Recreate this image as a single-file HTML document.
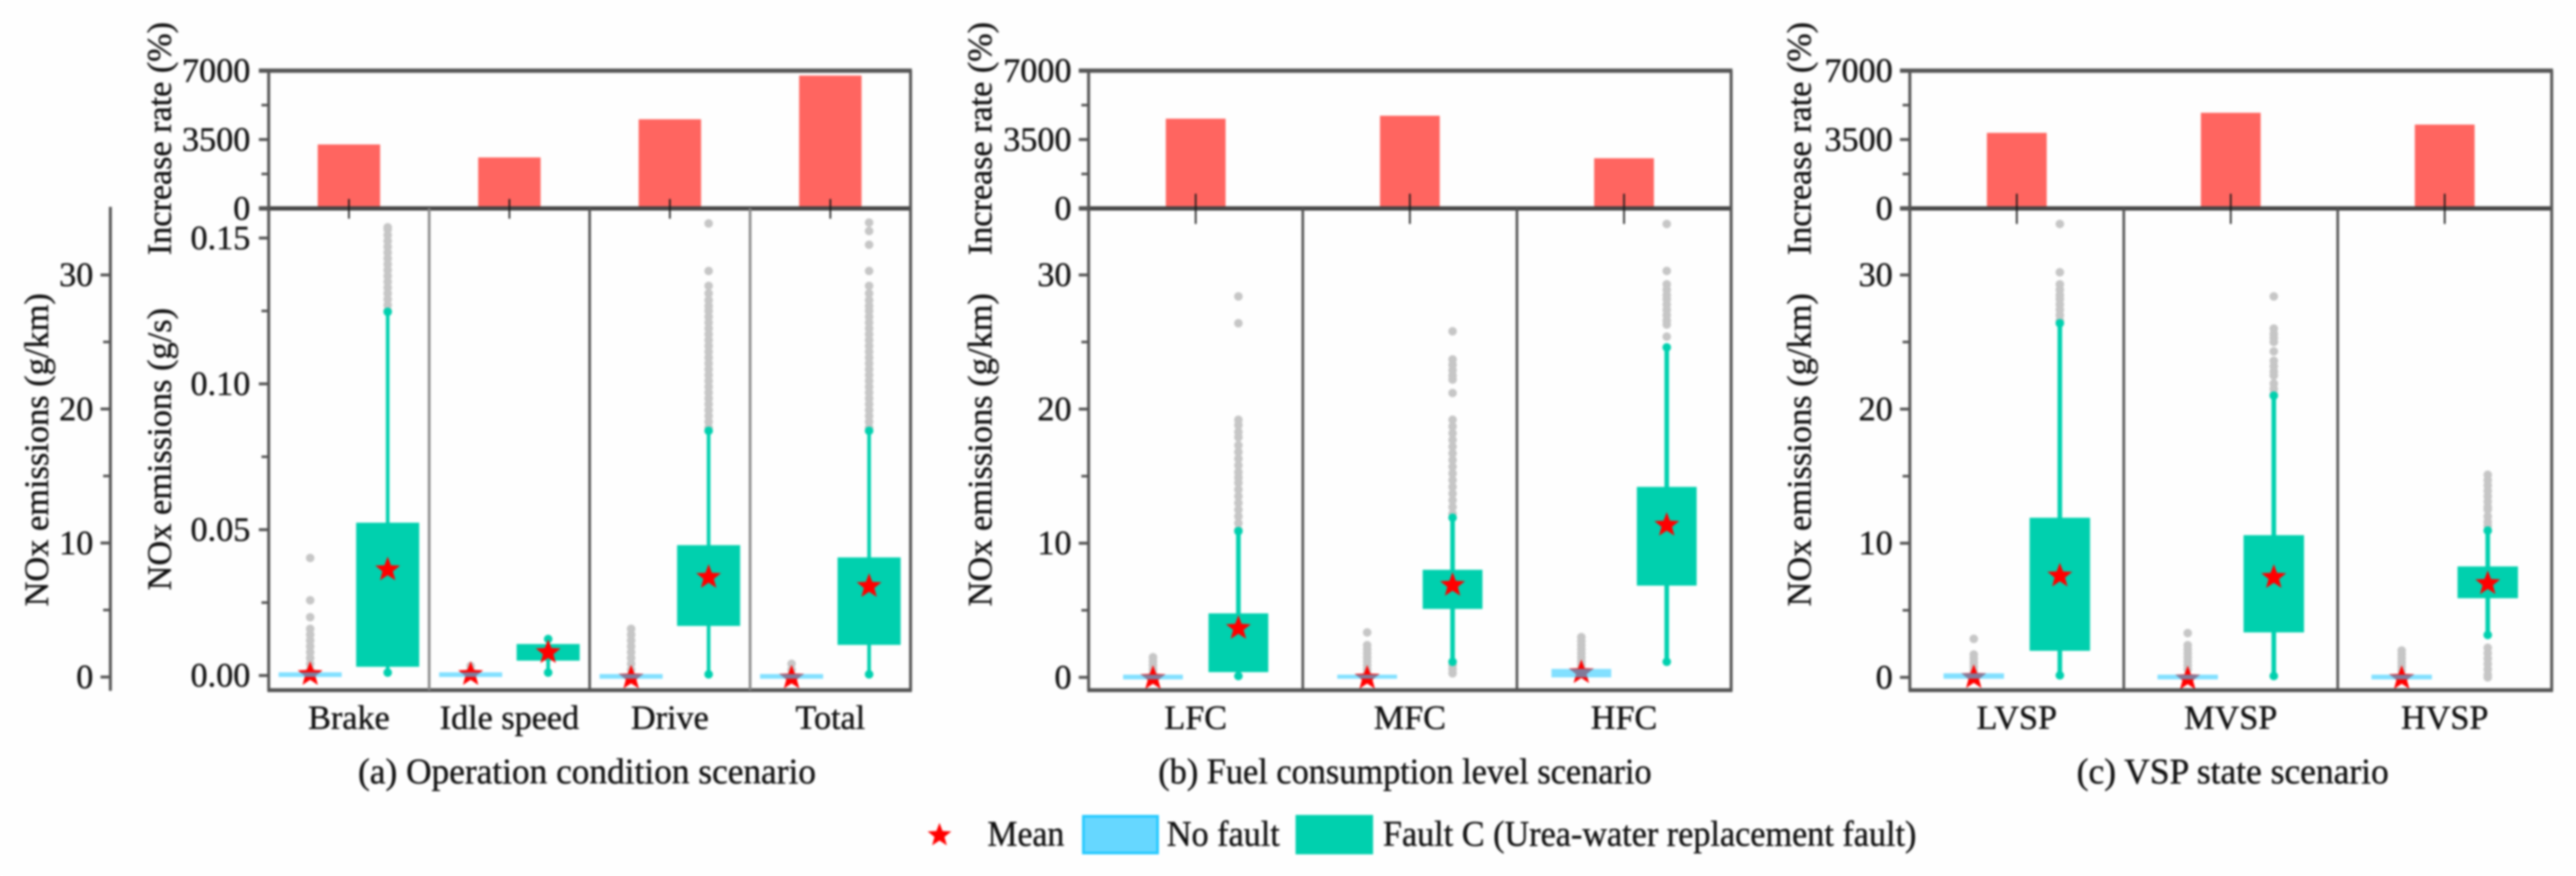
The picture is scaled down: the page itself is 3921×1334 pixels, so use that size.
<!DOCTYPE html>
<html lang="en">
<head>
<meta charset="utf-8">
<title>NOx emissions by scenario</title>
<style>
  html, body { margin: 0; padding: 0; background: #fefefe; }
  #figure { display: block; filter: blur(1.5px); }
  text { font-family: "Liberation Serif", serif; fill: #111111; stroke: #111111; stroke-width: 0.6px; font-size: 52px; }
  text.caption { font-size: 55px; }
</style>
</head>
<body>
<svg id="figure" xmlns="http://www.w3.org/2000/svg" width="3921" height="1334" viewBox="0 0 3921 1334">
  <rect x="0" y="0" width="3921" height="1334" fill="#fefefe"/>
  <g id="panels"></g>

  <text transform="translate(260 211) rotate(-90)" text-anchor="middle" textLength="355" lengthAdjust="spacingAndGlyphs">Increase rate (%)</text>
  <text transform="translate(260 684) rotate(-90)" text-anchor="middle" textLength="430" lengthAdjust="spacingAndGlyphs">NOx emissions (g/s)</text>
  <text transform="translate(73 685) rotate(-90)" text-anchor="middle" textLength="477" lengthAdjust="spacingAndGlyphs">NOx emissions (g/km)</text>
  <text transform="translate(1509 211) rotate(-90)" text-anchor="middle" textLength="355" lengthAdjust="spacingAndGlyphs">Increase rate (%)</text>
  <text transform="translate(1509 685) rotate(-90)" text-anchor="middle" textLength="477" lengthAdjust="spacingAndGlyphs">NOx emissions (g/km)</text>
  <text transform="translate(2756 211) rotate(-90)" text-anchor="middle" textLength="355" lengthAdjust="spacingAndGlyphs">Increase rate (%)</text>
  <text transform="translate(2756 685) rotate(-90)" text-anchor="middle" textLength="477" lengthAdjust="spacingAndGlyphs">NOx emissions (g/km)</text>

  <text class="caption" x="545" y="1193" textLength="697" lengthAdjust="spacingAndGlyphs">(a) Operation condition scenario</text>
  <text class="caption" x="1763" y="1193" textLength="751" lengthAdjust="spacingAndGlyphs">(b) Fuel consumption level scenario</text>
  <text class="caption" x="3161" y="1193" textLength="475" lengthAdjust="spacingAndGlyphs">(c) VSP state scenario</text>

  <g>
    <polygon id="legend-star" fill="#ff0000"/>
    <text class="caption" x="1503" y="1288" textLength="117" lengthAdjust="spacingAndGlyphs">Mean</text>
    <rect x="1649" y="1243" width="113" height="56" fill="#66d7ff" stroke="#22c9ff" stroke-width="4"/>
    <text class="caption" x="1776" y="1288" textLength="172" lengthAdjust="spacingAndGlyphs">No fault</text>
    <rect x="1972" y="1241" width="118" height="60" fill="#00d0ae"/>
    <text class="caption" x="2105" y="1288" textLength="812" lengthAdjust="spacingAndGlyphs">Fault C (Urea-water replacement fault)</text>
  </g>
</svg>

<script>
// ---- rate axis (shared) ----
const rateTicks = [0, 3500, 7000];
const rateTickLabels = ['0', '3500', '7000'];
const rateMinorTicks = [1750, 5250];

// ---- emission axes ----
const gramsPerKmTicks = [0, 10, 20, 30];
const gramsPerKmTickLabels = ['0', '10', '20', '30'];
const gramsPerKmMinorTicks = [5, 15, 25];
const gramsPerSecondTicks = [0, 0.05, 0.10, 0.15];
const gramsPerSecondTickLabels = ['0.00', '0.05', '0.10', '0.15'];
const gramsPerSecondMinorTicks = [0.025, 0.075, 0.125];

// ---- panel (a) operation condition, g/s ----
const aCategories = ['Brake', 'Idle speed', 'Drive', 'Total'];
const aRates = [3250, 2590, 4530, 6750];
const aNoFaultQ1 = [-0.0005, -0.0005, -0.0011, -0.0011];
const aNoFaultQ3 = [0.0011, 0.0011, 0.0005, 0.0005];
const aNoFaultMean = [0.0004, 0.0004, -0.0008, -0.0008];
const aNoFaultOutliers = [
  [0.0403, 0.0258, 0.0200, 0.0160, 0.0140, 0.0120, 0.0100, 0.0080, 0.0060, 0.0040, 0.0020],
  [0.0033, 0.0020],
  [0.0160, 0.0140, 0.0120, 0.0100, 0.0080, 0.0060, 0.0040, 0.0020],
  [0.0040, 0.0020]
];
const aFaultLow = [0.0010, 0.0010, 0.0004, 0.0004];
const aFaultQ1 = [0.0030, 0.0051, 0.0170, 0.0105];
const aFaultQ3 = [0.0524, 0.0108, 0.0447, 0.0405];
const aFaultHigh = [0.1247, 0.0125, 0.0839, 0.0839];
const aFaultMean = [0.0363, 0.0079, 0.0337, 0.0306];
const aFaultOutliers = [
  [0.1537, 0.153, 0.151, 0.149, 0.147, 0.145, 0.143, 0.141, 0.139, 0.137, 0.135, 0.133, 0.131, 0.129, 0.127, 0.125],
  [],
  [0.155, 0.1387, 0.1336, 0.131, 0.1287, 0.1267, 0.125, 0.123, 0.121, 0.119, 0.117, 0.115, 0.113, 0.111, 0.109, 0.107, 0.105, 0.103, 0.101, 0.099, 0.097, 0.095, 0.093, 0.091, 0.089, 0.087, 0.085],
  [0.1553, 0.1524, 0.1477, 0.1387, 0.1336, 0.131, 0.1287, 0.1267, 0.125, 0.123, 0.121, 0.119, 0.117, 0.115, 0.113, 0.111, 0.109, 0.107, 0.105, 0.103, 0.101, 0.099, 0.097, 0.095, 0.093, 0.091, 0.089, 0.087, 0.085]
];

// ---- panel (b) fuel consumption, g/km ----
const bCategories = ['LFC', 'MFC', 'HFC'];
const bRates = [4560, 4710, 2550];
const bNoFaultQ1 = [-0.15, -0.1, 0];
const bNoFaultQ3 = [0.2, 0.2, 0.63];
const bNoFaultMean = [-0.07, -0.05, 0.36];
const bNoFaultOutliers = [
  [1.5, 1.2, 0.9, 0.6, 0.3],
  [3.35, 2.4, 2.1, 1.8, 1.5, 1.2, 0.9, 0.6, 0.3],
  [3.0, 2.7, 2.4, 2.1, 1.8, 1.5, 1.2, 0.9]
];
const bFaultLow = [0.1, 1.16, 1.16];
const bFaultQ1 = [0.39, 5.1, 6.84];
const bFaultQ3 = [4.77, 8.02, 14.2];
const bFaultHigh = [10.9, 11.9, 24.6];
const bFaultMean = [3.66, 6.87, 11.35];
const bFaultOutliers = [
  [28.4, 26.4, 19.2, 18.8, 18.3, 17.9, 17.3, 16.8, 16.3, 15.8, 15.3, 14.9, 14.5, 14, 13.5, 13, 12.5, 12, 11.5, 11],
  [25.8, 23.7, 23.3, 22.9, 22.5, 22.2, 21.2, 19.2, 18.7, 18.2, 17.7, 17.2, 16.7, 16.2, 15.7, 15.2, 14.7, 14.2, 13.7, 13.2, 12.7, 12.2, 0.9, 0.6, 0.3],
  [33.8, 30.3, 29.3, 28.9, 28.5, 28.2, 27.8, 27.4, 27, 26.6, 26.3, 25.4]
];

// ---- panel (c) VSP state, g/km ----
const cCategories = ['LVSP', 'MVSP', 'HVSP'];
const cRates = [3840, 4860, 4260];
const cNoFaultQ1 = [-0.1, -0.15, -0.15];
const cNoFaultQ3 = [0.3, 0.2, 0.2];
const cNoFaultMean = [0, -0.1, -0.07];
const cNoFaultOutliers = [
  [2.87, 1.7, 1.4, 1.1, 0.8, 0.5],
  [3.3, 2.4, 2.1, 1.8, 1.5, 1.2, 0.9, 0.6],
  [2, 1.7, 1.4, 1.1, 0.8, 0.5]
];
const cFaultLow = [0.15, 0.1, 3.16];
const cFaultQ1 = [1.98, 3.35, 5.9];
const cFaultQ3 = [11.9, 10.6, 8.27];
const cFaultHigh = [26.4, 21.0, 10.94];
const cFaultMean = [7.57, 7.46, 7.0];
const cFaultOutliers = [
  [33.8, 30.2, 29.3, 28.9, 28.5, 28.2, 27.8, 27.4, 27, 26.6],
  [28.4, 26, 25.6, 25.3, 25, 24.3, 23.6, 23.2, 22.8, 22.5, 21.9, 21.5, 21.1],
  [15.1, 14.7, 14.3, 13.9, 13.5, 13.1, 12.7, 12.5, 12, 11.6, 11.3, 2.2, 1.8, 1.4, 1, 0.6, 0.2, 0]
];

// ---- drawing ----
const SVG_NS = 'http://www.w3.org/2000/svg';
const root = document.getElementById('panels');
const AXIS_COLOR = '#555555';
const TEAL = '#00d0ae';

function linear(d0, d1, p0, p1) {
  return function (v) { return p0 + (v - d0) * (p1 - p0) / (d1 - d0); };
}
function make(tag, attrs, parent) {
  const n = document.createElementNS(SVG_NS, tag);
  for (const k in attrs) n.setAttribute(k, attrs[k]);
  parent.appendChild(n);
  return n;
}
function line(x1, y1, x2, y2, stroke, width, parent, name) {
  const n = make('line', { x1: x1, y1: y1, x2: x2, y2: y2, stroke: stroke, 'stroke-width': width }, parent);
  
  
  return n;
}
function label(str, x, y, anchor, parent, name) {
  const n = make('text', { x: x, y: y, 'text-anchor': anchor }, parent);
  n.textContent = str;
  
  
  return n;
}
function starPoints(cx, cy, R) {
  const pts = [];
  for (let i = 0; i < 10; i++) {
    const r = i % 2 === 0 ? R : R * 0.42;
    const a = -Math.PI / 2 + i * Math.PI / 5;
    pts.push((cx + r * Math.cos(a)).toFixed(1) + ',' + (cy + r * Math.sin(a)).toFixed(1));
  }
  return pts.join(' ');
}
function star(cx, cy, R, parent, name) {
  const n = make('polygon', { points: starPoints(cx, cy, R), fill: '#ff0000' }, parent);
  
  
  return n;
}
function drawYAxis(x, yTop, yBottom, scale, ticks, labels, minor, labelRight, parent, prefix) {
  line(x, yTop, x, yBottom, AXIS_COLOR, 4.5, parent, prefix + '-line');
  ticks.forEach(function (t, i) {
    line(x - 15, scale(t), x, scale(t), AXIS_COLOR, 4.5, parent, prefix + '-tick');
    label(labels[i], labelRight, scale(t) + 17, 'end', parent, prefix + '-tick-label');
  });
  minor.forEach(function (t) {
    line(x - 11, scale(t), x, scale(t), AXIS_COLOR, 4, parent, prefix + '-minor-tick');
  });
}
function drawPanel(p) {
  const g = make('g', {}, root);
  
  
  const yRate = linear(0, 7000, 317.4, 107.6);
  const step = (p.x1 - p.x0) / p.categories.length;

  p.categories.forEach(function (cat, i) {
    const cx = p.x0 + step * (i + 0.5);
    const xN = cx - p.offset;
    const xF = cx + p.offset;

    // increase-rate bar
    const bar = make('rect', { x: cx - p.barW / 2, y: yRate(p.rates[i]), width: p.barW, height: yRate(0) - yRate(p.rates[i]), fill: '#ff6560' }, g);
    
    

    // no-fault outliers, mean star, box
    p.noFaultOutliers[i].forEach(function (v) {
      const o = make('circle', { cx: xN, cy: p.y(v), r: 6.5, fill: '#c6c6c6' }, g);
      
      
    });
    star(xN, p.y(p.noFaultMean[i]), 20, g, 'no-fault-mean');
    const nBox = make('rect', { x: xN - p.boxW / 2, y: p.y(p.noFaultQ3[i]), width: p.boxW, height: p.y(p.noFaultQ1[i]) - p.y(p.noFaultQ3[i]), fill: '#2fcbff', 'fill-opacity': 0.6 }, g);
    
    

    // fault outliers, whisker, box, mean
    p.faultOutliers[i].forEach(function (v) {
      const o = make('circle', { cx: xF, cy: p.y(v), r: 6.5, fill: '#c6c6c6' }, g);
      
      
    });
    line(xF, p.y(p.faultHigh[i]), xF, p.y(p.faultLow[i]), TEAL, p.whiskerW, g, 'fault-whisker');
    [p.faultHigh[i], p.faultLow[i]].forEach(function (v) {
      const c = make('circle', { cx: xF, cy: p.y(v), r: 6.5, fill: TEAL }, g);
      
      
    });
    const fBox = make('rect', { x: xF - p.boxW / 2, y: p.y(p.faultQ3[i]), width: p.boxW, height: p.y(p.faultQ1[i]) - p.y(p.faultQ3[i]), fill: TEAL }, g);
    
    
    star(xF, p.y(p.faultMean[i]), 20, g, 'fault-mean');

    // category label
    label(cat, cx, 1110, 'middle', g, 'category-label');
  });

  // frame: top panel
  line(p.x0 - 15, 107.6, p.x1 + 2, 107.6, AXIS_COLOR, 6.5, g, 'top-panel-upper-border');
  line(p.x0 - 15, 317.4, p.x1 + 2, 317.4, '#444444', 6.5, g, 'shared-zero-line');
  line(p.x1, 107.6, p.x1, 1052, AXIS_COLOR, 4.5, g, 'right-border');
  drawYAxis(p.x0, 107.6, 317.4, yRate, rateTicks, rateTickLabels, rateMinorTicks, p.labelRight, g, 'rate-axis');

  // frame: lower panel
  drawYAxis(p.x0, 317.4, 1052, p.y, p.ticks, p.tickLabels, p.minorTicks, p.labelRight, g, 'emissions-axis');
  line(p.x0 - 2, 1051, p.x1 + 2, 1051, AXIS_COLOR, 6, g, 'lower-panel-bottom-border');
  for (let i = 1; i < p.categories.length; i++) {
    const dx = p.x0 + step * i;
    line(dx, 317.4, dx, 1051, p.dividerColors[i - 1], 4, g, 'category-divider');
  }
  p.categories.forEach(function (cat, i) {
    const cx = p.x0 + step * (i + 0.5);
    line(cx, p.catTickTop, cx, p.catTickBottom, '#1a1a1a', 2.5, g, 'category-tick');
  });
}

drawPanel({
  id: 'a', x0: 409, x1: 1386, categories: aCategories, rates: aRates,
  noFaultQ1: aNoFaultQ1, noFaultQ3: aNoFaultQ3, noFaultMean: aNoFaultMean, noFaultOutliers: aNoFaultOutliers,
  faultLow: aFaultLow, faultQ1: aFaultQ1, faultQ3: aFaultQ3, faultHigh: aFaultHigh, faultMean: aFaultMean, faultOutliers: aFaultOutliers,
  y: linear(0, 0.15, 1028.7, 362.5), ticks: gramsPerSecondTicks, tickLabels: gramsPerSecondTickLabels, minorTicks: gramsPerSecondMinorTicks,
  labelRight: 381, barW: 95, boxW: 96, offset: 59, whiskerW: 5.5, catTickTop: 303, catTickBottom: 333,
  dividerColors: ['#8a8a8a', '#555555', '#8a8a8a']
});
drawPanel({
  id: 'b', x0: 1657, x1: 2635, categories: bCategories, rates: bRates,
  noFaultQ1: bNoFaultQ1, noFaultQ3: bNoFaultQ3, noFaultMean: bNoFaultMean, noFaultOutliers: bNoFaultOutliers,
  faultLow: bFaultLow, faultQ1: bFaultQ1, faultQ3: bFaultQ3, faultHigh: bFaultHigh, faultMean: bFaultMean, faultOutliers: bFaultOutliers,
  y: linear(0, 30, 1031.5, 418.7), ticks: gramsPerKmTicks, tickLabels: gramsPerKmTickLabels, minorTicks: gramsPerKmMinorTicks,
  labelRight: 1631, barW: 91, boxW: 91, offset: 65, whiskerW: 7, catTickTop: 295, catTickBottom: 341,
  dividerColors: ['#555555', '#555555']
});
drawPanel({
  id: 'c', x0: 2907, x1: 3884, categories: cCategories, rates: cRates,
  noFaultQ1: cNoFaultQ1, noFaultQ3: cNoFaultQ3, noFaultMean: cNoFaultMean, noFaultOutliers: cNoFaultOutliers,
  faultLow: cFaultLow, faultQ1: cFaultQ1, faultQ3: cFaultQ3, faultHigh: cFaultHigh, faultMean: cFaultMean, faultOutliers: cFaultOutliers,
  y: linear(0, 30, 1031.5, 418.7), ticks: gramsPerKmTicks, tickLabels: gramsPerKmTickLabels, minorTicks: gramsPerKmMinorTicks,
  labelRight: 2881, barW: 91, boxW: 92, offset: 65.5, whiskerW: 7, catTickTop: 295, catTickBottom: 341,
  dividerColors: ['#555555', '#555555']
});

// outer g/km axis of panel (a)
const outerAxis = make('g', {}, root);


drawYAxis(168, 315, 1052, linear(0, 30, 1031, 418.7), gramsPerKmTicks, gramsPerKmTickLabels, gramsPerKmMinorTicks, 142, outerAxis, 'outer-gkm-axis');

document.getElementById('legend-star').setAttribute('points', starPoints(1430, 1272, 19));
</script>
</body>
</html>
